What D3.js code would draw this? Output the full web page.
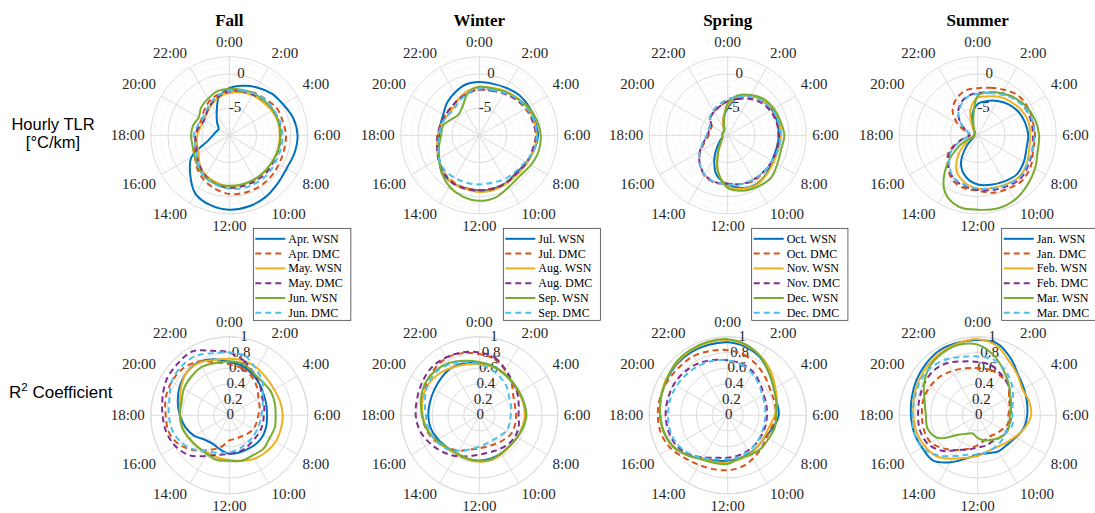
<!DOCTYPE html>
<html><head><meta charset="utf-8">
<script src="https://cdn.jsdelivr.net/npm/d3@7"></script>
<style>body{margin:0;background:#fff;} svg{display:block;}</style>
</head><body><svg id="chart" width="1095" height="513"></svg>
<script>
// ---------------- data ----------------
const seasons = ["Fall", "Winter", "Spring", "Summer"];
const monthLabels = [["Apr.", "May.", "Jun."], ["Jul.", "Aug.", "Sep."], ["Oct.", "Nov.", "Dec."], ["Jan.", "Feb.", "Mar."]];
const sources = ["WSN", "DMC"];
const hours = d3.range(0, 24);
const hourTicks = [0, 2, 4, 6, 8, 10, 12, 14, 16, 18, 20, 22];
const tlrTicks = [-5, 0];
const tlrMinorTicks = [-8, -7, -6, -4, -3, -2, -1, 1, 2];
const r2Ticks = [0, 0.2, 0.4, 0.6, 0.8, 1];
const seriesColors = ["#0072BD", "#D95319", "#EDB120", "#7E2F8E", "#77AC30", "#4DBEEE"];

// Hourly TLR [°C/km], hour 0..23, order: m1 WSN, m1 DMC, m2 WSN, m2 DMC, m3 WSN, m3 DMC
const tlrFall = [
  [-2.1,-1.5,-0.9,-0.3,0.1,0.7,1.0,0.9,0.7,1.0,1.5,1.8,1.9,1.6,0.9,-0.9,-2.6,-5.7,-6.6,-7.0,-7.2,-6.5,-5.3,-3.2],
  [-2.5,-2.2,-1.8,-1.5,-1.0,-0.9,-0.7,-0.7,-0.6,-0.4,-0.3,-0.3,-0.4,-0.9,-1.5,-2.3,-3.2,-3.8,-4.1,-4.3,-4.3,-3.8,-3.2,-2.8],
  [-2.8,-2.5,-2.2,-2.1,-1.8,-1.6,-1.6,-1.6,-1.6,-1.6,-1.5,-1.5,-1.5,-1.8,-2.2,-2.9,-3.8,-4.1,-4.3,-4.6,-4.7,-4.4,-3.8,-3.2],
  [-2.6,-2.3,-2.1,-1.8,-1.6,-1.5,-1.5,-1.5,-1.5,-1.3,-1.3,-1.3,-1.3,-1.6,-2.1,-2.8,-3.5,-4.0,-4.0,-4.4,-4.7,-4.3,-3.7,-3.1],
  [-2.2,-2.1,-1.9,-1.8,-1.6,-1.5,-1.5,-1.5,-1.6,-1.6,-1.6,-1.6,-1.6,-1.6,-1.9,-2.5,-3.1,-3.4,-3.4,-3.5,-3.8,-3.2,-2.8,-2.3],
  [-2.5,-2.2,-1.9,-1.6,-1.5,-1.3,-1.2,-1.2,-1.2,-1.0,-1.0,-1.0,-1.2,-1.5,-1.9,-2.6,-3.5,-3.8,-3.8,-4.1,-4.4,-4.1,-3.5,-2.9]
];
const tlrWinter = [
  [-1.2,-1.2,-1.0,-0.7,-0.6,-0.6,-0.4,-0.7,-1.0,-1.3,-1.0,-0.9,-0.9,-1.0,-1.0,-1.3,-2.2,-2.8,-3.1,-3.1,-2.9,-2.3,-1.8,-1.3],
  [-2.3,-2.2,-1.9,-1.5,-1.2,-0.9,-0.7,-0.9,-1.0,-1.2,-1.0,-1.0,-1.0,-1.0,-1.2,-1.5,-2.1,-2.6,-2.9,-3.1,-3.2,-3.2,-2.9,-2.6],
  [-1.9,-1.8,-1.5,-1.2,-0.9,-0.7,-0.6,-0.7,-0.9,-1.0,-0.9,-0.7,-0.7,-0.9,-1.0,-1.5,-2.1,-2.6,-2.9,-3.2,-3.5,-3.5,-2.9,-2.3],
  [-2.3,-2.2,-1.9,-1.5,-1.0,-0.9,-0.7,-0.9,-1.0,-1.2,-1.0,-0.9,-0.9,-0.9,-1.0,-1.5,-2.1,-2.6,-2.9,-3.1,-3.2,-3.2,-2.9,-2.6],
  [-1.9,-1.9,-1.6,-1.3,-0.7,-0.3,0.0,0.0,-0.3,-0.6,-0.3,0.4,0.6,0.3,-0.3,-1.2,-2.2,-2.9,-3.4,-3.5,-4.3,-4.7,-4.1,-2.6],
  [-2.2,-2.1,-1.8,-1.3,-1.0,-0.7,-0.6,-0.7,-1.2,-1.5,-1.6,-1.8,-1.8,-1.8,-1.8,-1.8,-2.2,-2.8,-3.1,-3.2,-3.5,-3.7,-3.2,-2.6]
];
const tlrSpring = [
  [-5.0,-3.2,-2.3,-1.8,-1.5,-1.5,-1.5,-1.6,-1.5,-1.0,-0.7,-1.0,-1.8,-2.9,-5.1,-7.0,-7.9,-8.2,-8.2,-8.2,-8.2,-8.2,-7.8,-6.5],
  [-4.0,-3.4,-2.6,-2.1,-1.6,-1.5,-1.6,-1.5,-1.3,-1.5,-1.3,-1.6,-1.9,-1.8,-2.2,-3.2,-4.4,-5.6,-6.2,-6.3,-6.3,-5.4,-5.0,-4.6],
  [-4.7,-3.1,-2.3,-1.8,-1.3,-1.2,-1.2,-1.3,-1.2,-0.9,-0.6,-0.9,-1.5,-3.5,-6.2,-7.6,-8.1,-8.2,-8.2,-8.2,-8.2,-8.2,-7.8,-6.5],
  [-4.0,-3.5,-2.8,-2.2,-1.8,-1.6,-1.5,-1.5,-1.5,-1.5,-1.5,-1.6,-1.9,-1.9,-2.3,-3.2,-4.3,-5.4,-6.0,-6.2,-6.2,-5.4,-5.0,-4.6],
  [-4.3,-2.9,-2.2,-1.5,-1.2,-1.0,-0.7,-0.9,-0.6,-0.1,-0.3,-0.6,-1.3,-3.5,-6.2,-7.6,-8.1,-8.2,-8.2,-8.2,-8.2,-8.2,-8.1,-6.9],
  [-3.7,-3.2,-2.5,-1.9,-1.5,-1.3,-1.2,-1.3,-1.5,-1.5,-1.5,-1.6,-1.8,-1.9,-2.3,-3.2,-4.3,-5.3,-5.9,-6.0,-6.0,-5.3,-4.8,-4.3]
];
const tlrSummer = [
  [-4.4,-3.8,-3.2,-2.6,-2.1,-1.8,-1.6,-1.6,-1.2,-0.9,-1.2,-1.5,-1.8,-2.6,-4.1,-6.6,-8.2,-8.5,-8.5,-8.5,-8.5,-8.4,-7.6,-5.9],
  [-2.1,-1.8,-1.3,-0.7,-0.6,-0.7,-0.6,-0.6,0.0,0.3,0.0,-0.3,-0.9,-1.0,-1.5,-2.8,-4.1,-6.5,-7.8,-7.3,-5.6,-3.8,-2.8,-2.2],
  [-3.5,-3.1,-2.5,-2.1,-1.6,-1.3,-1.3,-1.2,-0.7,-0.4,-0.7,-1.0,-1.2,-1.8,-2.9,-5.0,-7.3,-8.4,-8.5,-8.5,-8.5,-8.4,-7.3,-5.0],
  [-2.8,-2.5,-1.9,-1.3,-1.0,-0.9,-0.9,-0.7,-0.4,-0.1,-0.4,-0.7,-1.0,-1.3,-1.8,-2.9,-4.4,-6.6,-7.8,-7.6,-6.5,-5.0,-3.8,-3.1],
  [-3.2,-2.5,-1.9,-1.3,-0.7,-0.3,0.0,0.1,0.7,1.3,1.9,2.1,1.9,1.8,0.6,-2.5,-5.9,-8.2,-8.5,-8.5,-8.5,-8.4,-7.9,-6.5],
  [-2.9,-2.6,-2.1,-1.5,-1.0,-0.7,-0.7,-0.7,-0.6,-0.3,-0.6,-0.9,-1.2,-1.5,-1.9,-3.1,-4.6,-6.8,-7.9,-7.6,-6.5,-5.0,-4.0,-3.2]
];

// R² coefficient, hour 0..23
const r2Fall = [
  [0.68,0.65,0.60,0.55,0.51,0.49,0.48,0.49,0.50,0.50,0.49,0.49,0.49,0.45,0.42,0.44,0.52,0.58,0.63,0.68,0.73,0.77,0.78,0.74],
  [0.65,0.62,0.57,0.50,0.43,0.40,0.37,0.36,0.35,0.33,0.31,0.31,0.32,0.42,0.51,0.63,0.74,0.80,0.81,0.84,0.85,0.84,0.79,0.70],
  [0.72,0.72,0.70,0.67,0.66,0.67,0.68,0.68,0.68,0.66,0.64,0.60,0.57,0.56,0.55,0.57,0.59,0.62,0.63,0.65,0.71,0.77,0.77,0.73],
  [0.80,0.72,0.62,0.55,0.48,0.46,0.44,0.44,0.44,0.44,0.46,0.48,0.49,0.52,0.60,0.72,0.79,0.83,0.85,0.88,0.92,0.93,0.94,0.85],
  [0.69,0.68,0.62,0.60,0.61,0.60,0.59,0.60,0.59,0.61,0.59,0.60,0.58,0.59,0.57,0.57,0.59,0.62,0.63,0.63,0.67,0.69,0.71,0.69],
  [0.80,0.78,0.68,0.60,0.49,0.44,0.41,0.40,0.40,0.41,0.42,0.45,0.47,0.50,0.53,0.62,0.70,0.75,0.77,0.79,0.85,0.87,0.87,0.82]
];
const r2Winter = [
  [0.67,0.65,0.62,0.59,0.58,0.59,0.59,0.57,0.56,0.55,0.56,0.57,0.58,0.58,0.57,0.58,0.61,0.64,0.65,0.65,0.66,0.68,0.70,0.69],
  [0.78,0.74,0.66,0.58,0.50,0.47,0.47,0.47,0.47,0.44,0.42,0.41,0.42,0.45,0.52,0.58,0.65,0.70,0.73,0.75,0.78,0.82,0.84,0.82],
  [0.65,0.64,0.62,0.59,0.58,0.58,0.58,0.57,0.56,0.55,0.57,0.59,0.59,0.58,0.57,0.59,0.64,0.69,0.72,0.75,0.76,0.74,0.70,0.67],
  [0.80,0.76,0.67,0.60,0.56,0.52,0.50,0.52,0.53,0.52,0.50,0.49,0.50,0.54,0.60,0.66,0.72,0.78,0.81,0.82,0.84,0.86,0.85,0.83],
  [0.68,0.65,0.62,0.60,0.59,0.59,0.60,0.58,0.56,0.55,0.56,0.58,0.58,0.57,0.56,0.58,0.63,0.69,0.73,0.77,0.80,0.80,0.77,0.72],
  [0.65,0.60,0.55,0.50,0.44,0.42,0.40,0.40,0.40,0.37,0.36,0.37,0.40,0.45,0.52,0.60,0.64,0.67,0.68,0.72,0.76,0.78,0.75,0.70]
];
const r2Spring = [
  [0.93,0.90,0.84,0.75,0.68,0.65,0.65,0.60,0.55,0.55,0.56,0.57,0.58,0.60,0.64,0.72,0.80,0.84,0.86,0.88,0.90,0.92,0.93,0.93],
  [0.83,0.80,0.74,0.68,0.63,0.62,0.61,0.58,0.57,0.60,0.64,0.68,0.70,0.71,0.73,0.77,0.84,0.88,0.89,0.89,0.88,0.87,0.87,0.85],
  [0.96,0.92,0.86,0.78,0.70,0.65,0.60,0.55,0.54,0.55,0.57,0.58,0.60,0.62,0.64,0.72,0.80,0.84,0.86,0.88,0.91,0.93,0.95,0.96],
  [0.70,0.68,0.64,0.58,0.53,0.51,0.50,0.50,0.50,0.51,0.52,0.53,0.54,0.56,0.62,0.70,0.76,0.78,0.79,0.79,0.79,0.78,0.76,0.73],
  [0.97,0.93,0.85,0.75,0.68,0.64,0.62,0.62,0.60,0.60,0.58,0.57,0.62,0.63,0.65,0.72,0.80,0.84,0.86,0.88,0.90,0.94,0.96,0.97],
  [0.70,0.67,0.62,0.56,0.51,0.49,0.48,0.48,0.49,0.51,0.53,0.55,0.56,0.58,0.63,0.69,0.74,0.76,0.76,0.76,0.75,0.74,0.73,0.72]
];
const r2Summer = [
  [0.96,0.95,0.84,0.73,0.68,0.65,0.63,0.61,0.56,0.53,0.53,0.50,0.50,0.57,0.69,0.81,0.82,0.84,0.85,0.87,0.90,0.93,0.96,0.96],
  [0.60,0.60,0.58,0.55,0.46,0.42,0.39,0.40,0.36,0.33,0.31,0.33,0.38,0.44,0.51,0.60,0.69,0.71,0.71,0.72,0.71,0.69,0.65,0.62],
  [0.97,0.92,0.80,0.72,0.66,0.68,0.68,0.62,0.55,0.50,0.47,0.48,0.52,0.56,0.64,0.74,0.78,0.81,0.82,0.84,0.87,0.90,0.93,0.95],
  [0.68,0.66,0.60,0.55,0.48,0.43,0.43,0.42,0.42,0.40,0.38,0.40,0.41,0.45,0.51,0.64,0.73,0.76,0.76,0.77,0.79,0.80,0.77,0.71],
  [0.90,0.79,0.66,0.56,0.48,0.44,0.41,0.42,0.43,0.40,0.36,0.33,0.29,0.24,0.27,0.35,0.58,0.66,0.66,0.70,0.79,0.87,0.91,0.93],
  [0.75,0.74,0.68,0.60,0.52,0.46,0.44,0.46,0.42,0.44,0.46,0.48,0.50,0.52,0.60,0.72,0.82,0.84,0.83,0.83,0.85,0.85,0.82,0.77]
];

const tlrData = [tlrFall, tlrWinter, tlrSpring, tlrSummer];
const r2Data = [r2Fall, r2Winter, r2Spring, r2Summer];

// ---------------- drawing ----------------
const svg = d3.select("#chart");
svg.append("rect").attr("width", 1095).attr("height", 513).attr("fill", "#fff");

const colCx = [229.3, 479.3, 727.7, 977.7];
const rowCy = [135.3, 415.3];
const R = 78.5;
const gridColor = "#dcdcdc";
const textColor = "#262626";
const serif = "'Liberation Serif','Times New Roman',serif";
const sans = "'Liberation Sans',Arial,sans-serif";

const theta = d3.scaleLinear().domain([0, 24]).range([0, 2 * Math.PI]);
const rTLR = d3.scaleLinear().domain([-9, 2.5]).range([0, R]);
const rR2 = d3.scaleLinear().domain([0, 1]).range([0, R]);

function drawPolar(cx, cy, rScale, major, minor, labelFmt, series) {
  const g = svg.append("g").attr("transform", `translate(${cx},${cy})`);
  minor.forEach(v => g.append("circle").attr("r", rScale(v)).attr("fill", "none")
    .attr("stroke", gridColor).attr("stroke-width", 0.8).attr("stroke-dasharray", "1,2"));
  major.forEach(v => { if (rScale(v) > 1) g.append("circle").attr("r", rScale(v)).attr("fill", "none")
    .attr("stroke", gridColor).attr("stroke-width", 1); });
  g.append("circle").attr("r", R).attr("fill", "none").attr("stroke", gridColor).attr("stroke-width", 1);
  hourTicks.forEach(h => {
    const a = theta(h);
    g.append("line").attr("x1", 0).attr("y1", 0)
      .attr("x2", R * Math.sin(a)).attr("y2", -R * Math.cos(a))
      .attr("stroke", gridColor).attr("stroke-width", 1);
  });
  // theta labels
  hourTicks.forEach(h => {
    const a = theta(h), s = Math.sin(a), c = Math.cos(a);
    const rr = R + 6;
    let x = rr * s, y = -rr * c;
    const anchor = Math.abs(s) < 0.1 ? "middle" : (s > 0 ? "start" : "end");
    let dy;
    if (c > 0.1) dy = -4; else if (c < -0.1) dy = 11; else dy = 5;
    g.append("text").attr("x", x).attr("y", y + dy).attr("text-anchor", anchor)
      .attr("font-family", serif).attr("font-size", 15).attr("fill", textColor)
      .text(h + ":00");
  });
  // radial labels
  major.forEach(v => {
    const r = rScale(v);
    g.append("text").attr("x", r * Math.sin(10 * Math.PI / 180) + 1).attr("y", -r - 1)
      .attr("text-anchor", "middle").attr("dominant-baseline", "central")
      .attr("font-family", serif).attr("font-size", 15).attr("fill", textColor)
      .text(labelFmt(v));
  });
  // lines
  const line = d3.lineRadial()
    .angle((d, i) => theta(hours[i]))
    .radius(d => rScale(d))
    .curve(d3.curveCatmullRomClosed.alpha(0.5));
  series.forEach((s, i) => {
    g.append("path").attr("d", line(s)).attr("fill", "none")
      .attr("stroke", seriesColors[i]).attr("stroke-width", 2)
      .attr("stroke-dasharray", i % 2 === 1 ? "6,4" : null)
      .attr("stroke-linejoin", "round");
  });
}

seasons.forEach((s, ci) => {
  drawPolar(colCx[ci], rowCy[0], rTLR, tlrTicks, tlrMinorTicks, v => String(v), tlrData[ci]);
  drawPolar(colCx[ci], rowCy[1], rR2, r2Ticks, [], v => String(v), r2Data[ci]);
  svg.append("text").attr("x", colCx[ci]).attr("y", 20).attr("text-anchor", "middle")
    .attr("dominant-baseline", "central").attr("font-family", serif)
    .attr("font-weight", "bold").attr("font-size", 17).attr("fill", "#000").text(s);
});

// legends
seasons.forEach((s, ci) => {
  const lg = svg.append("g").attr("transform", `translate(${colCx[ci] + 24},${rowCy[0] + 93})`);
  const box = lg.append("rect").attr("fill", "#fff").attr("stroke", textColor).attr("stroke-width", 0.7);
  let maxW = 0;
  d3.range(6).forEach(i => {
    const y = 10.5 + i * 14.8;
    lg.append("line").attr("x1", 2).attr("x2", 32).attr("y1", y).attr("y2", y)
      .attr("stroke", seriesColors[i]).attr("stroke-width", 2)
      .attr("stroke-dasharray", i % 2 === 1 ? "6,4" : null);
    const t = lg.append("text").attr("x", 35).attr("y", y).attr("dominant-baseline", "central")
      .attr("font-family", serif).attr("font-size", 12).attr("fill", "#000")
      .text(monthLabels[ci][Math.floor(i / 2)] + " " + sources[i % 2]);
    maxW = Math.max(maxW, t.node().getComputedTextLength());
  });
  box.attr("x", 0).attr("y", 0).attr("width", 35 + maxW + 8).attr("height", 92);
});

// row labels
svg.append("text").attr("x", 53).attr("y", 124).attr("text-anchor", "middle")
  .attr("dominant-baseline", "central").attr("font-family", sans).attr("font-size", 16.5)
  .attr("fill", "#000").text("Hourly TLR");
svg.append("text").attr("x", 53).attr("y", 142).attr("text-anchor", "middle")
  .attr("dominant-baseline", "central").attr("font-family", sans).attr("font-size", 16.5)
  .attr("fill", "#000").text("[°C/km]");
const rl = svg.append("text").attr("x", 9).attr("y", 398).attr("font-family", sans)
  .attr("font-size", 17).attr("fill", "#000");
rl.append("tspan").text("R");
rl.append("tspan").attr("dy", -7).attr("font-size", 11.5).text("2");
rl.append("tspan").attr("dy", 7).text(" Coefficient");
</script>
</body></html>
